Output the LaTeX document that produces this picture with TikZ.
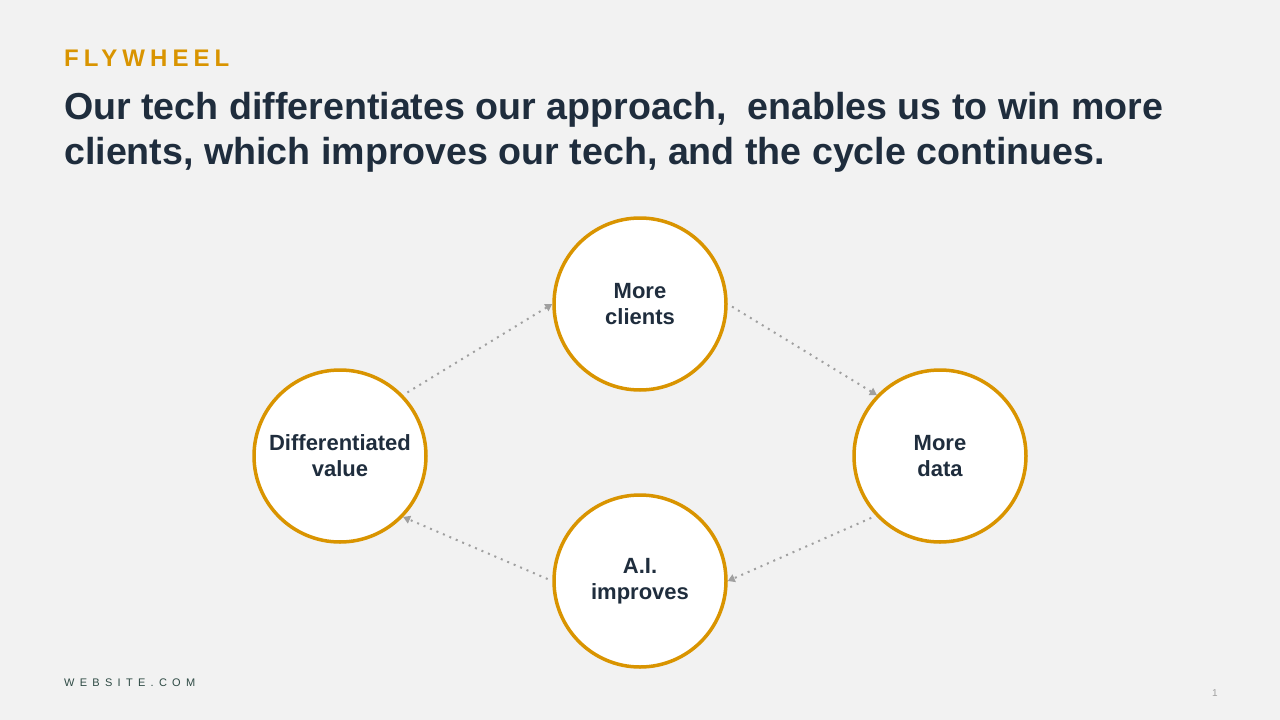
\documentclass[tikz,border=0pt]{standalone}
\usepackage{fontspec}
\setmainfont{Liberation Sans}
\newfontfamily\flyfont[LetterSpace=21]{Liberation Sans}
\newfontfamily\webfont[LetterSpace=48]{Liberation Sans}
\usetikzlibrary{arrows.meta}
\definecolor{bg}{HTML}{F2F2F2}
\definecolor{navy}{HTML}{1F2D3D}
\definecolor{gold}{HTML}{D99400}
\definecolor{arr}{HTML}{A0A0A0}
\definecolor{web}{HTML}{2E4A44}
\tikzset{
  wheel/.style={circle, draw=gold, line width=3.5pt, fill=white, minimum size=172pt, inner sep=0pt,
    align=center, font=\fontsize{22}{26}\selectfont\bfseries, text=navy},
  conn/.style={draw=arr, line width=2pt, dash pattern=on 2pt off 5pt,
    -{Triangle[width=8pt,length=7pt]}, shorten <=5pt}
}
\begin{document}
\begin{tikzpicture}[x=1pt,y=-1pt]
\fill[bg] (0,0) rectangle (1280,720);
\useasboundingbox (0,0) rectangle (1280,720);
\node[anchor=base west, inner sep=0pt, text=gold, font=\fontsize{24}{28}\selectfont\bfseries\flyfont] (fly) at (64,66) {FLYWHEEL};
\node[anchor=base west, inner sep=0pt, text=navy, align=left, font=\fontsize{37.6}{45}\selectfont\bfseries] (title) at (64,164)
  {Our tech differentiates our approach,\ \ enables us to win more\\clients, which improves our tech, and the cycle continues.};
\node[wheel] (mc) at (640,304) {More\\clients};
\node[wheel] (dv) at (340,456) {Differentiated\\value};
\node[wheel] (md) at (940,456) {More\\data};
\node[wheel] (ai) at (640,581) {A.I.\\improves};
\draw[conn] (dv.44) -- (mc.180);
\draw[conn] (mc.0) -- (md.136);
\draw[conn] (md.223) -- (ai.0);
\draw[conn] (ai.180) -- (dv.-44);
\node[anchor=base west, inner sep=0pt, text=web, font=\fontsize{11}{13}\selectfont\webfont] (site) at (64,686) {WEBSITE.COM};
\node[anchor=base, inner sep=0pt, text=arr, font=\fontsize{10}{12}\selectfont] (pg) at (1215,696) {1};
\end{tikzpicture}
\end{document}
